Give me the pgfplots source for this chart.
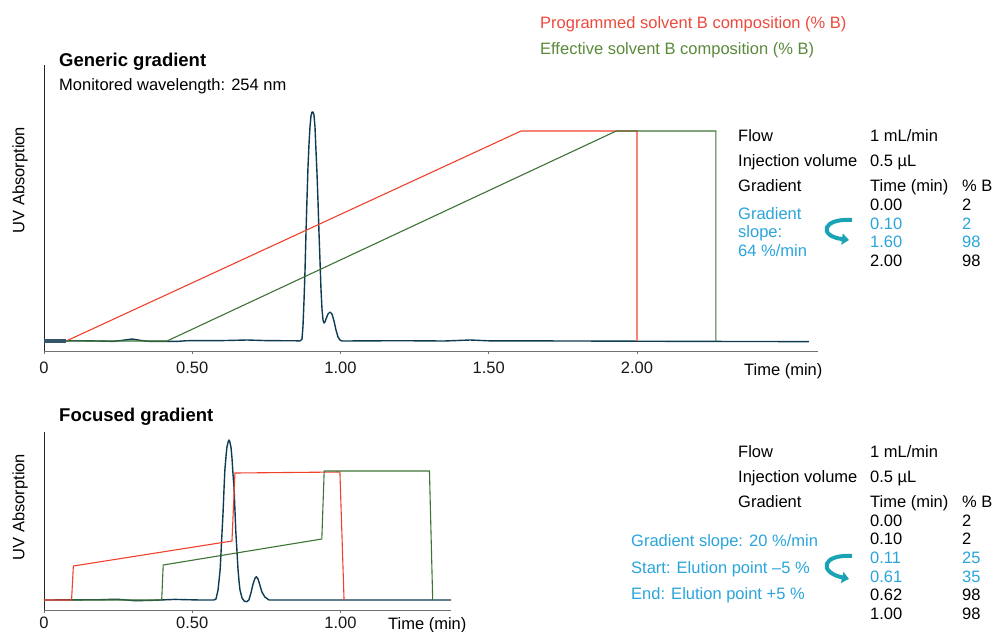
\documentclass[border=0pt]{standalone}
\usepackage{pgfplots}
\pgfplotsset{compat=1.18}
\usepackage{fontspec}
\setmainfont{Liberation Sans}
\usetikzlibrary{arrows.meta}
\definecolor{chrom}{HTML}{0E3A52}
\definecolor{progred}{HTML}{F0412D}
\definecolor{effgreen}{HTML}{3E7336}
\definecolor{legred}{HTML}{EC4A3C}
\definecolor{leggreen}{HTML}{5A8A3A}
\definecolor{cyantext}{HTML}{2AA4DA}
\definecolor{arrowcyan}{HTML}{19A3B4}
\definecolor{thickseg}{HTML}{35566A}
\definecolor{axgray}{HTML}{707070}
\newcommand\tf{\fontsize{16.5bp}{19bp}\selectfont}
\newcommand\hf{\fontsize{18.5bp}{22bp}\selectfont\bfseries}
\pgfplotsset{
  chromstyle/.style={axis lines=left, axis line style={-}, scale only axis,
    clip=false, ytick=\empty, tick align=outside, major tick length=3bp,
    x axis line style={draw=axgray, line width=0.9bp},
    y axis line style={draw=black!85, line width=0.8bp},
    xtick style={draw=axgray, line width=0.8bp},
    /pgf/number format/assume math mode=true,
    xticklabel style={font=\tf, anchor=base, text=black!90}},
}
\begin{document}
\begin{tikzpicture}
\path[use as bounding box] (0,0) rectangle (992bp,-632bp);
% ---------------- top axis ----------------
\begin{axis}[chromstyle, at={(44bp,-351bp)}, anchor=south west,
  width=774bp, height=286bp, xmin=0, xmax=2.6105, ymin=0, ymax=286,
  xtick={0,0.5,1,1.5,2}, xticklabels={0,0.50,1.00,1.50,2.00},
  xticklabel style={yshift=-19bp}]
\addplot[chrom, line width=1.4bp, line join=round] coordinates {
(0,10) (0.121,10.3) (0.2,9.9) (0.233,9.6) (0.263,10.6) (0.297,12) (0.33,10.4)
(0.357,9.6) (0.449,9.6) (0.482,10.3) (0.6,10.4) (0.685,11) (0.75,10.4) (0.853,10.2)
(0.8634,10) (0.8702,12) (0.8735,25) (0.8769,50) (0.8803,80) (0.8836,118) (0.8870,152)
(0.8904,184) (0.8938,207) (0.8971,224) (0.9005,235) (0.9039,239) (0.9073,239)
(0.9106,236) (0.9140,224) (0.9174,200) (0.9207,178) (0.9241,150) (0.9275,118)
(0.9309,90) (0.9342,62) (0.9376,42) (0.9410,31) (0.9444,28) (0.9477,29) (0.9511,32)
(0.9578,37) (0.9646,39) (0.9713,37) (0.9781,30) (0.9848,21) (0.9916,14) (0.9983,11)
(1.0051,10) (1.2,10.3) (1.35,10) (1.437,11) (1.5,10.2) (1.8,10) (2.2,9.6) (2.58,9.4)};
\addplot[progred, line width=1.1bp] coordinates {
(0.075,10) (1.609,220) (2.0,220) (2.0,10)};
\addplot[effgreen, line width=1.1bp] coordinates {
(0.075,10) (0.415,10) (1.93,220) (2.266,220) (2.266,10)};
\addplot[thickseg, line width=3.5bp] coordinates {(0,10) (0.075,10)};
\end{axis}
% ---------------- bottom axis ----------------
\begin{axis}[chromstyle, at={(44bp,-610bp)}, anchor=south west,
  width=407bp, height=178bp, xmin=0, xmax=1.3727, ymin=0, ymax=178,
  xtick={0,0.5,1}, xticklabels={0,0.50,1.00},
  xticklabel style={yshift=-15bp}]
\addplot[chrom, line width=1.4bp, line join=round] coordinates {
(0,10) (0.189,10.3) (0.246,10.8) (0.307,9.3) (0.357,9.6) (0.442,10.6) (0.526,10)
(0.573,10) (0.580,11) (0.587,20) (0.594,40) (0.597,57) (0.600,75) (0.604,98)
(0.607,120) (0.610,140) (0.614,154) (0.617,163) (0.621,168) (0.624,170) (0.627,168)
(0.631,162) (0.634,152) (0.637,138) (0.641,122) (0.644,100) (0.647,78) (0.651,58)
(0.654,42) (0.658,28) (0.661,20) (0.668,12) (0.675,9) (0.684,8.3) (0.691,10)
(0.698,17) (0.705,26) (0.712,32) (0.716,33.3) (0.722,31) (0.728,25) (0.735,18)
(0.745,13) (0.759,10) (0.863,10) (1.3727,10)};
\addplot[progred, line width=1.1bp] coordinates {
(0,10) (0.093,10) (0.099,44) (0.634,69) (0.644,137) (0.998,138) (1.012,10)};
\addplot[effgreen, line width=1.1bp] coordinates {
(0.093,10) (0.397,10) (0.402,45) (0.937,71) (0.945,139) (1.300,139) (1.311,10)};
\end{axis}
% ---------------- texts ----------------
\begin{scope}[x=1bp, y=-1bp, every node/.style={inner sep=0pt, font=\tf}]
\node[anchor=base west, text=legred] at (540,28) {Programmed solvent B composition (\% B)};
\node[anchor=base west, text=leggreen] at (540,54) {Effective solvent B composition (\% B)};
\node[anchor=base west, font=\hf] at (59,66) {Generic gradient};
\node[anchor=base west] at (59,90) {Monitored wavelength: 254 nm};
\node[anchor=base west, font=\hf] at (59,421) {Focused gradient};
\node[rotate=90, anchor=center] at (20,180) {UV Absorption};
\node[rotate=90, anchor=center] at (20,507) {UV Absorption};
\node[anchor=base west] at (744,375) {Time (min)};
\node[anchor=base west] at (388,629) {Time (min)};
% top table
\node[anchor=base west] at (738,141) {Flow};
\node[anchor=base west] at (870,141) {1 mL/min};
\node[anchor=base west] at (738,166) {Injection volume};
\node[anchor=base west] at (870,166) {0.5 µL};
\node[anchor=base west] at (738,191) {Gradient};
\node[anchor=base west] at (870,191) {Time (min)};
\node[anchor=base west] at (962,191) {\% B};
\node[anchor=base west] at (870,210) {0.00};
\node[anchor=base west] at (962,210) {2};
\node[anchor=base west, text=cyantext] at (870,229) {0.10};
\node[anchor=base west, text=cyantext] at (962,229) {2};
\node[anchor=base west, text=cyantext] at (870,247) {1.60};
\node[anchor=base west, text=cyantext] at (962,247) {98};
\node[anchor=base west] at (870,266) {2.00};
\node[anchor=base west] at (962,266) {98};
\node[anchor=base west, text=cyantext] at (738,219) {Gradient};
\node[anchor=base west, text=cyantext] at (738,237.5) {slope:};
\node[anchor=base west, text=cyantext] at (738,256) {64 \%/min};
\draw[arrowcyan, line width=4bp, -{Triangle[length=7bp,width=11bp]}]
  (852,220) .. controls (822,218) and (818,236) .. (849,240);
% bottom table
\node[anchor=base west] at (738,457) {Flow};
\node[anchor=base west] at (870,457) {1 mL/min};
\node[anchor=base west] at (738,482) {Injection volume};
\node[anchor=base west] at (870,482) {0.5 µL};
\node[anchor=base west] at (738,507) {Gradient};
\node[anchor=base west] at (870,507) {Time (min)};
\node[anchor=base west] at (962,507) {\% B};
\node[anchor=base west] at (870,526) {0.00};
\node[anchor=base west] at (962,526) {2};
\node[anchor=base west] at (870,544) {0.10};
\node[anchor=base west] at (962,544) {2};
\node[anchor=base west, text=cyantext] at (870,563) {0.11};
\node[anchor=base west, text=cyantext] at (962,563) {25};
\node[anchor=base west, text=cyantext] at (870,582) {0.61};
\node[anchor=base west, text=cyantext] at (962,582) {35};
\node[anchor=base west] at (870,600) {0.62};
\node[anchor=base west] at (962,600) {98};
\node[anchor=base west] at (870,619) {1.00};
\node[anchor=base west] at (962,619) {98};
\node[anchor=base west, text=cyantext] at (631,546) {Gradient slope: 20 \%/min};
\node[anchor=base west, text=cyantext] at (631,573) {Start: Elution point –5 \%};
\node[anchor=base west, text=cyantext] at (631,599) {End: Elution point +5 \%};
\draw[arrowcyan, line width=4bp, -{Triangle[length=7bp,width=11bp]}]
  (852,556) .. controls (822,554) and (818,572) .. (849,579);
\end{scope}
\end{tikzpicture}
\end{document}
